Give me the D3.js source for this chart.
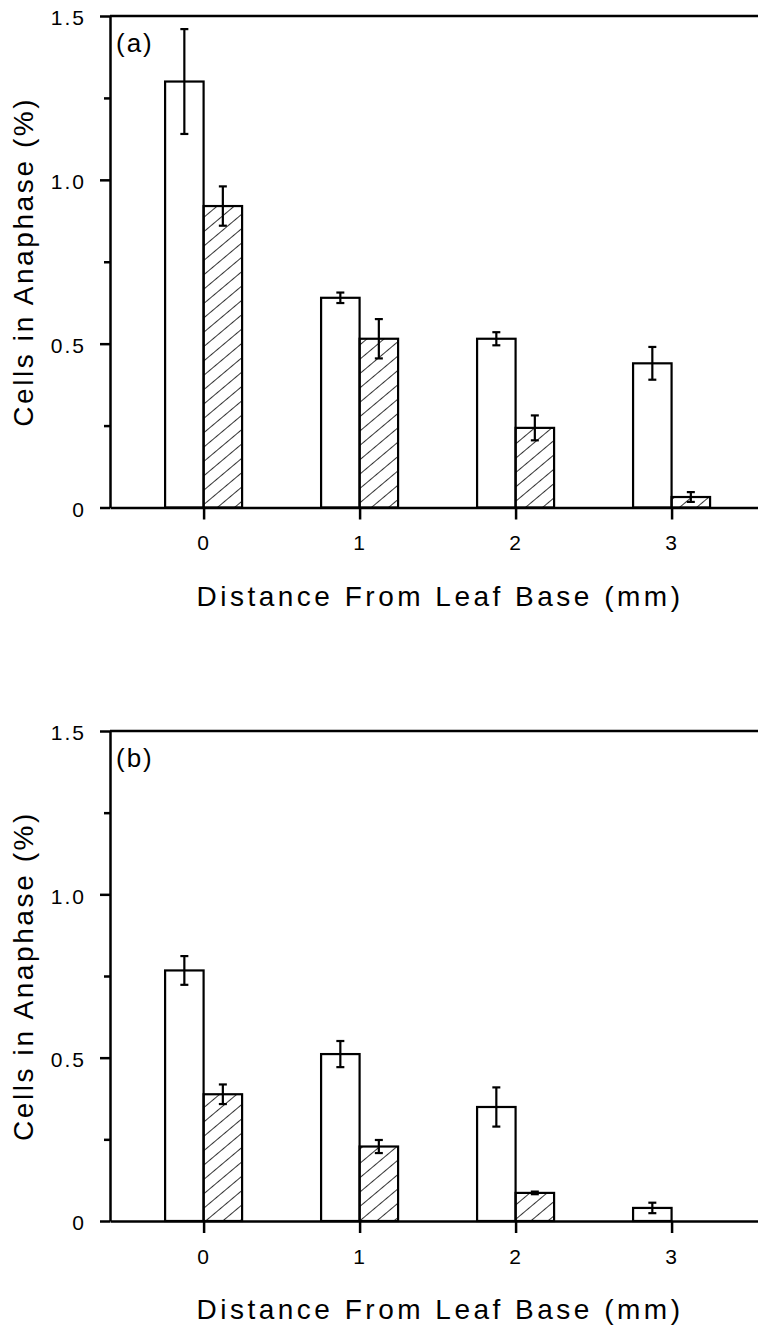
<!DOCTYPE html>
<html>
<head>
<meta charset="utf-8">
<script src="https://cdn.jsdelivr.net/npm/d3@7"></script>
<style>
  body { margin: 0; background: #fff; }
  svg { display: block; font-family: "Liberation Sans", Arial, sans-serif; }
  .axis path, .axis line { stroke: #000; stroke-width: 2.5; }
  .axis text { font-size: 21px; letter-spacing: 2px; fill: #000; }
</style>
</head>
<body>
<div id="chart"></div>
<script>
// distance from leaf base (mm)
var categories = [0, 1, 2, 3];
var yTickValues = [0, 0.5, 1.0, 1.5];
var yTickLabels = ["0", "0.5", "1.0", "1.5"];

// panel (a)
var aOpen = [1.30, 0.64, 0.515, 0.44];
var aOpenErr = [0.16, 0.016, 0.02, 0.05];
var aHatch = [0.92, 0.515, 0.243, 0.032];
var aHatchErr = [0.06, 0.06, 0.038, 0.015];

// panel (b)
var bOpen = [0.767, 0.511, 0.349, 0.040];
var bOpenErr = [0.044, 0.04, 0.06, 0.016];
var bHatch = [0.388, 0.228, 0.086, null];
var bHatchErr = [0.03, 0.02, 0.004, null];

var width = 758, height = 1327;
var left = 110, right = 758;

var svg = d3.select("#chart").append("svg")
    .attr("width", width)
    .attr("height", height);

svg.append("rect").attr("width", width).attr("height", height).attr("fill", "#fff");

var defs = svg.append("defs");
defs.append("pattern")
    .attr("id", "hatch")
    .attr("patternUnits", "userSpaceOnUse")
    .attr("width", 11)
    .attr("height", 11)
    .attr("patternTransform", "rotate(50)")
  .append("line")
    .attr("x1", 0).attr("y1", 0)
    .attr("x2", 0).attr("y2", 11)
    .attr("stroke", "#000")
    .attr("stroke-width", 1.6);

var x = d3.scaleLinear().domain([-0.6, 3.554]).range([left, right]);
var barW = 38.5;

var panels = [
  {label: "(a)", top: 16, bottom: 507.5, open: aOpen, openErr: aOpenErr, hatch: aHatch, hatchErr: aHatchErr},
  {label: "(b)", top: 731, bottom: 1221, open: bOpen, openErr: bOpenErr, hatch: bHatch, hatchErr: bHatchErr}
];

panels.forEach(drawPanel);

function drawPanel(p) {
  var y = d3.scaleLinear().domain([0, 1.5]).range([p.bottom, p.top]);
  var g = svg.append("g");

  var series = [
    {vals: p.open, errs: p.openErr, fill: "#fff", dx: -barW},
    {vals: p.hatch, errs: p.hatchErr, fill: "url(#hatch)", dx: 0}
  ];

  series.forEach(function (s) {
    var rows = categories.map(function (c, i) {
      return {c: c, v: s.vals[i], e: s.errs[i]};
    }).filter(function (d) { return d.v != null; });

    g.selectAll(null).data(rows).enter().append("rect")
        .attr("x", function (d) { return x(d.c) + s.dx; })
        .attr("y", function (d) { return y(d.v); })
        .attr("width", barW)
        .attr("height", function (d) { return y(0) - y(d.v); })
        .attr("fill", s.fill)
        .attr("stroke", "#000")
        .attr("stroke-width", 2.2);

    var eb = g.selectAll(null).data(rows).enter().append("g")
        .attr("transform", function (d) { return "translate(" + (x(d.c) + s.dx + barW / 2) + ",0)"; });
    eb.append("line")
        .attr("y1", function (d) { return y(d.v + d.e); })
        .attr("y2", function (d) { return y(d.v - d.e); })
        .attr("stroke", "#000").attr("stroke-width", 2.2);
    eb.append("line")
        .attr("x1", -4).attr("x2", 4)
        .attr("y1", function (d) { return y(d.v + d.e); })
        .attr("y2", function (d) { return y(d.v + d.e); })
        .attr("stroke", "#000").attr("stroke-width", 2.2);
    eb.append("line")
        .attr("x1", -4).attr("x2", 4)
        .attr("y1", function (d) { return y(d.v - d.e); })
        .attr("y2", function (d) { return y(d.v - d.e); })
        .attr("stroke", "#000").attr("stroke-width", 2.2);
  });

  // minor ticks
  g.append("g").attr("class", "axis")
      .attr("transform", "translate(" + left + ",0)")
      .call(d3.axisLeft(y).tickValues([0.25, 0.75, 1.25]).tickSize(6).tickFormat(""))
      .select(".domain").remove();

  // y axis
  g.append("g").attr("class", "axis")
      .attr("transform", "translate(" + left + ",0)")
      .call(d3.axisLeft(y).tickValues(yTickValues).tickSize(10).tickSizeOuter(0)
        .tickFormat(function (d, i) { return yTickLabels[i]; }))
      .call(function (a) { a.selectAll("text").attr("x", -24).attr("dy", "0.42em"); });

  // x axis
  g.append("g").attr("class", "axis")
      .attr("transform", "translate(0," + y(0) + ")")
      .call(d3.axisBottom(x).tickValues(categories).tickSize(12).tickSizeOuter(0).tickFormat(d3.format("d")))
      .call(function (a) { a.selectAll("text").attr("y", 28).attr("dy", "0.71em"); });

  // top frame line
  g.append("line")
      .attr("x1", left).attr("x2", right)
      .attr("y1", y(1.5)).attr("y2", y(1.5))
      .attr("stroke", "#000").attr("stroke-width", 2.5);

  g.append("text")
      .attr("x", left + 6)
      .attr("y", y(1.5) + 36)
      .attr("font-size", 26)
      .attr("letter-spacing", "2px")
      .text(p.label);

  g.append("text")
      .attr("x", 440)
      .attr("y", y(0) + 98)
      .attr("text-anchor", "middle")
      .attr("font-size", 28)
      .attr("letter-spacing", "3.5px")
      .text("Distance From Leaf Base (mm)");

  g.append("text")
      .attr("transform", "translate(33," + ((y(0) + y(1.5)) / 2) + ") rotate(-90)")
      .attr("text-anchor", "middle")
      .attr("font-size", 28)
      .attr("letter-spacing", "2.6px")
      .text("Cells in Anaphase (%)");
}
</script>
</body>
</html>
